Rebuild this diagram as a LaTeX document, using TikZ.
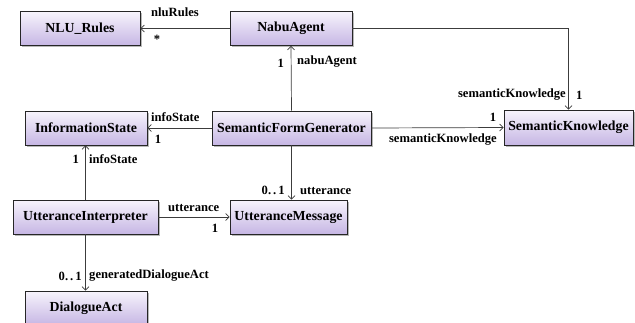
\documentclass[tikz,border=0pt]{standalone}
\usepackage{fontspec}
\setmainfont{Liberation Serif}
\usetikzlibrary{arrows.meta,shadows,calc}
\definecolor{clstop}{RGB}{247,244,252}
\definecolor{clsbot}{RGB}{198,182,228}
\definecolor{linegray}{RGB}{60,60,60}
\tikzset{
  cls/.style={draw=black!85, line width=0.7pt, top color=clstop, bottom color=clsbot,
    drop shadow={shadow xshift=1.6pt, shadow yshift=-1.6pt, fill=black!35, opacity=0.8},
    inner sep=0pt, minimum height=34pt, font=\fontsize{13.8}{16}\selectfont\bfseries},
  assoc/.style={draw=linegray, line width=0.7pt, -{Straight Barb[length=3.5pt,width=7pt]}},
  lbl/.style={font=\fontsize{12.6}{14}\selectfont\bfseries, inner sep=1pt}
}
\begin{document}
\begin{tikzpicture}[x=1pt,y=-1pt]
\useasboundingbox (0,0) rectangle (635,322);
\begin{scope}
\clip (0,0) rectangle (635,322);
% class boxes
\node[cls, minimum width=120pt] (nlu)  at (80,28.5)   {NLU\_Rules};
\node[cls, minimum width=122pt] (nabu) at (291,28.5)  {NabuAgent};
\node[cls, minimum width=122pt] (info) at (86,128)    {InformationState};
\node[cls, minimum width=159pt] (sfg)  at (291.5,128) {SemanticFormGenerator};
\node[cls, minimum width=129pt, minimum height=35pt] (sk) at (568.5,127.5) {SemanticKnowledge};
\node[cls, minimum width=145pt] (ui)   at (85.5,217)  {UtteranceInterpreter};
\node[cls, minimum width=117pt] (um)   at (288.5,217) {UtteranceMessage};
\node[cls, minimum width=122pt] (da)   at (86,308)    {DialogueAct};
\end{scope}

% associations
\draw[assoc] (nabu.west) -- (nlu.east);
\draw[assoc] (nabu.east) -| (sk.north);
\draw[assoc] (sfg.north) -- (nabu.south);
\draw[assoc] (sfg.west) -- (info.east);
\draw[assoc] (sfg.east) -- (sk.west);
\draw[assoc] (sfg.south) -- (sfg.south |- um.north);
\draw[assoc] (ui.north) -- (ui.north |- info.south);
\draw[assoc] (ui.east) -- (um.west);
\draw[assoc] (ui.south) -- (ui.south |- da.north);

% role names and multiplicities
\node[lbl] (l1) at (175,12) {nluRules};
\node[lbl] (m1) at (157,39) {*};
\node[lbl, anchor=east] (l2) at (567,95) {semanticKnowledge};
\node[lbl, anchor=west] (m2) at (575,95) {1};
\node[lbl, anchor=east] (m3) at (285,63) {1};
\node[lbl, anchor=west] (l3) at (296,62) {nabuAgent};
\node[lbl, anchor=west] (l4) at (150,117) {infoState};
\node[lbl] (m4) at (158,139) {1};
\node[lbl] (m5) at (493,117) {1};
\node[lbl, anchor=east] (l5) at (498,140) {semanticKnowledge};
\node[lbl, anchor=east] (m6) at (286,190) {0.\,.\,1};
\node[lbl, anchor=west] (l6) at (299,191) {utterance};
\node[lbl, anchor=east] (m7) at (80,159) {1};
\node[lbl, anchor=west] (l7) at (88,159) {infoState};
\node[lbl, anchor=west] (l8) at (167,208) {utterance};
\node[lbl] (m8) at (215,228) {1};
\node[lbl, anchor=east] (m9) at (83,276) {0.\,.\,1};
\node[lbl, anchor=west] (l9) at (88,276) {generatedDialogueAct};
\end{tikzpicture}
\end{document}
